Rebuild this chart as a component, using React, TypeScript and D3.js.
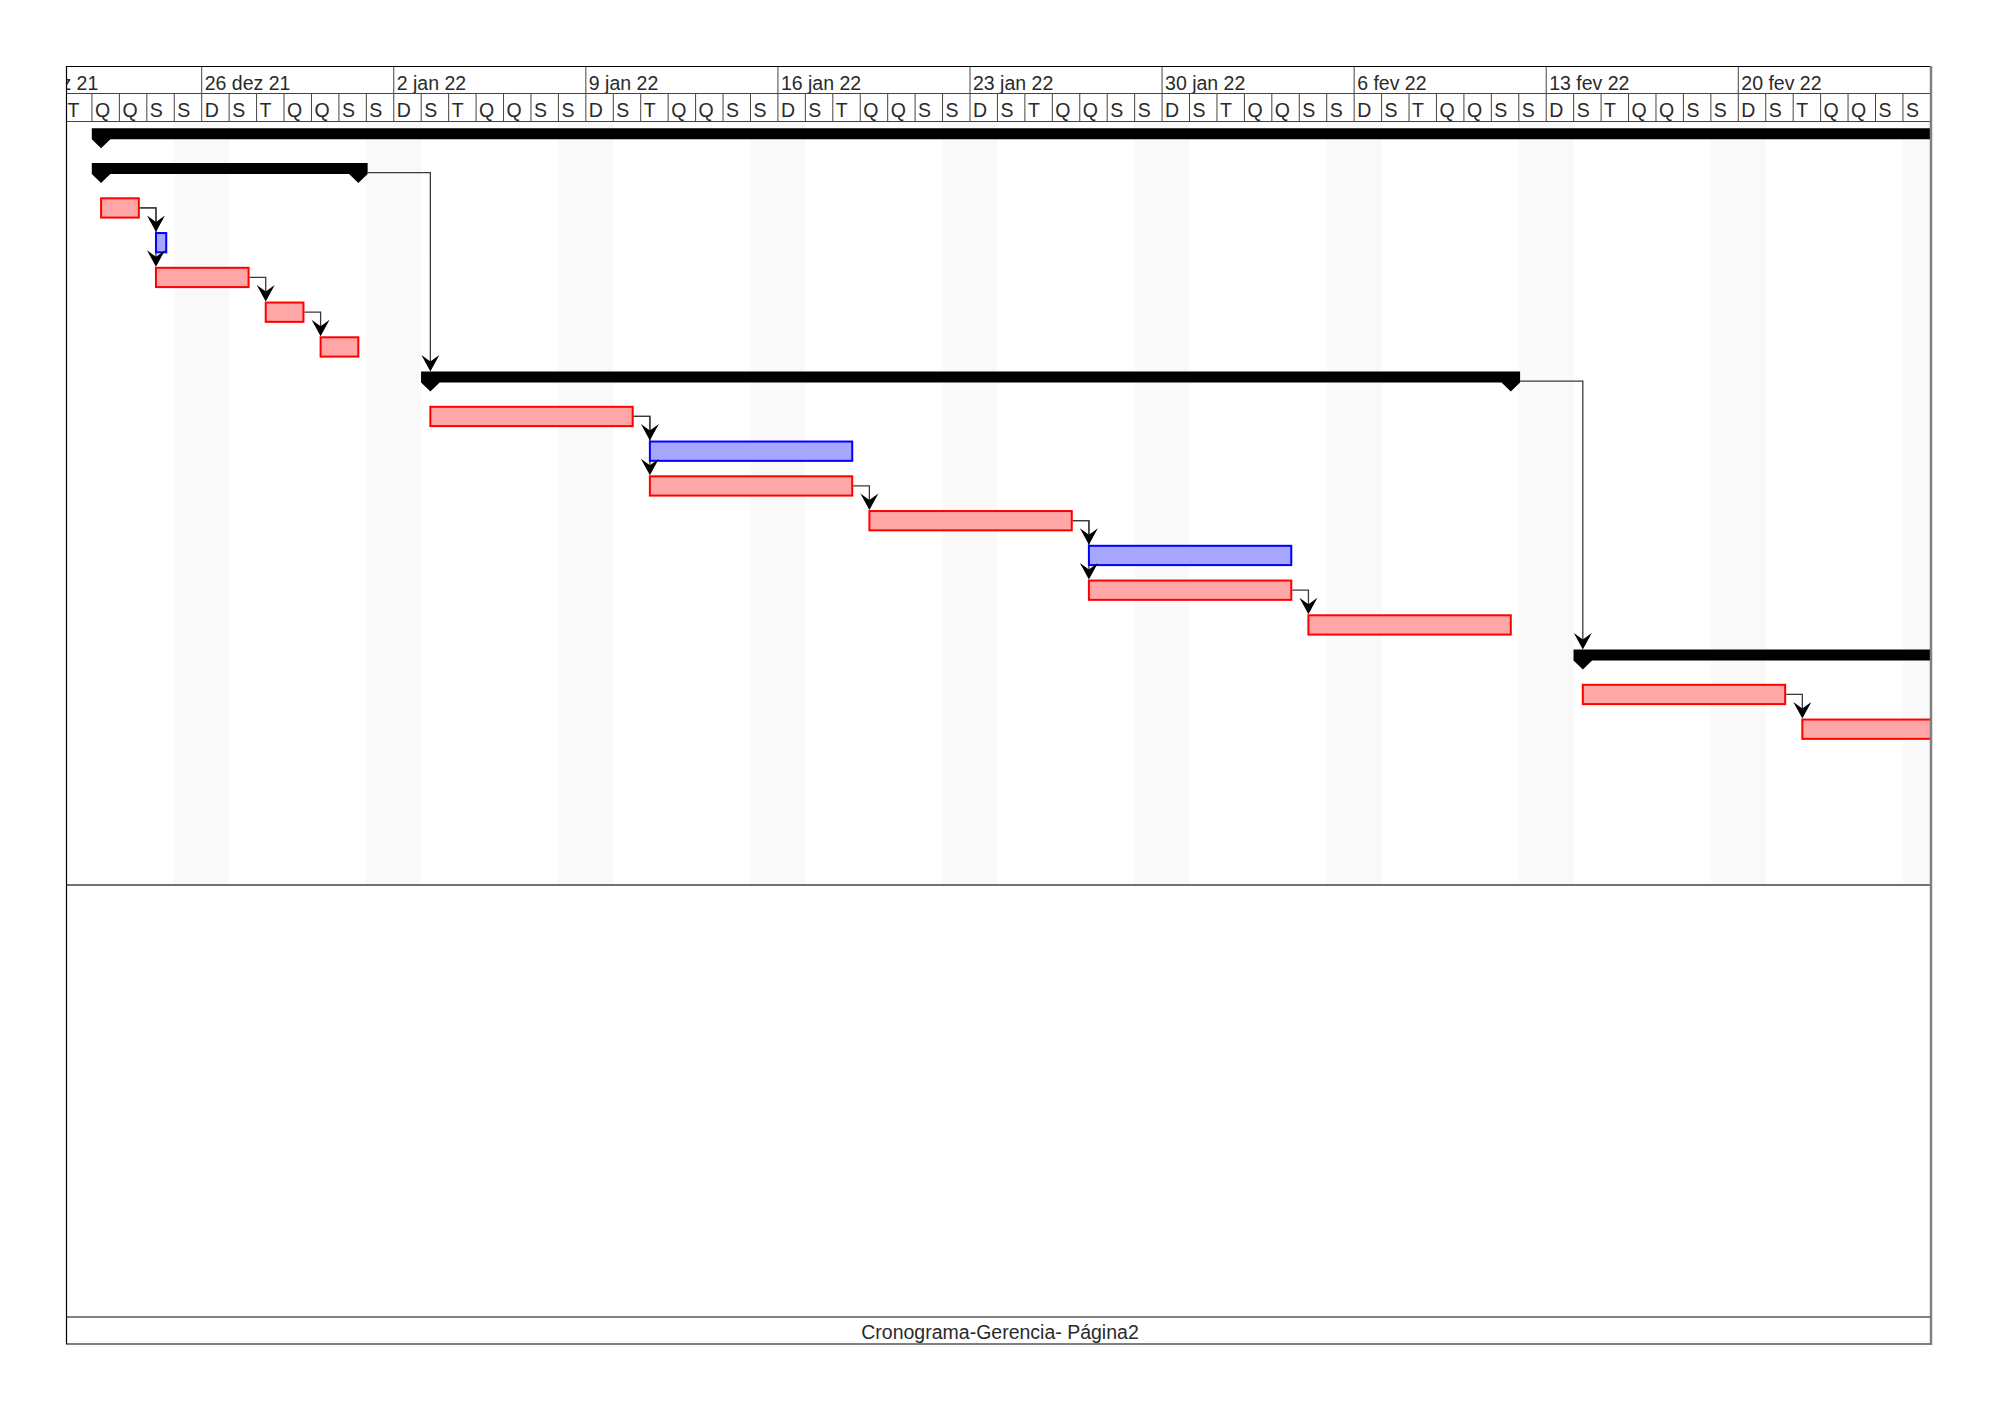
import * as d3 from 'd3';

// week header labels (one per Sunday) and day letters (Sun..Sat)
const WEEK_LABELS = ['19 dez 21', '26 dez 21', '2 jan 22', '9 jan 22', '16 jan 22', '23 jan 22', '30 jan 22', '6 fev 22', '13 fev 22', '20 fev 22'];
const DAY_LETTERS = ['D', 'S', 'T', 'Q', 'Q', 'S', 'S'];

// one entry per row of the gantt
const TASK_KIND = ['sum', 'sum', 'red', 'blue', 'red', 'red', 'red', 'sum', 'red', 'blue', 'red', 'red', 'blue', 'red', 'red', 'sum', 'red', 'red'];
const TASK_START = [
  '2021-12-22T08', '2021-12-22T08', '2021-12-22T08', '2021-12-24T08', '2021-12-24T08', '2021-12-28T08',
  '2021-12-30T08', '2022-01-03T08', '2022-01-03T08', '2022-01-11T08', '2022-01-11T08', '2022-01-19T08',
  '2022-01-27T08', '2022-01-27T08', '2022-02-04T08', '2022-02-14T08', '2022-02-14T08', '2022-02-22T08'
];
const TASK_END = [
  '2022-03-01T17', '2021-12-31T17', '2021-12-23T17', '2021-12-24T17', '2021-12-27T17', '2021-12-29T17',
  '2021-12-31T17', '2022-02-11T17', '2022-01-10T17', '2022-01-18T17', '2022-01-18T17', '2022-01-26T17',
  '2022-02-03T17', '2022-02-03T17', '2022-02-11T17', '2022-03-01T17', '2022-02-21T17', '2022-03-01T17'
];

// finish-to-start dependencies (row indexes)
const LINK_FROM = [2, 2, 4, 5, 1, 8, 8, 10, 11, 11, 13, 7, 16];
const LINK_TO = [3, 4, 5, 6, 7, 9, 10, 11, 12, 13, 14, 15, 17];

const FOOTER = 'Cronograma-Gerencia- Página2';

const FONT = '"Liberation Sans", Arial, sans-serif';
const COLORS = {
  red: { fill: '#ffa6a6', stroke: '#ff0000' },
  blue: { fill: '#a6a6ff', stroke: '#0000ff' }
};

function parse(s) {
  var parts = s.split('T');
  var d = parts[0].split('-').map(Number);
  return new Date(Date.UTC(d[0], d[1] - 1, d[2], +parts[1]));
}

function utc(y, m, d) {
  return new Date(Date.UTC(y, m, d));
}

export default function App() {
  var W = 2000, H = 1413;
  var L = 66, R = 1931, T = 66;
  var monthBottom = 93.5, headerBottom = 121.5, bodyBottom = 885, footerTop = 1317, B = 1344;

  var x = d3.scaleUtc().domain([utc(2021, 11, 26), utc(2022, 1, 20)]).range([201.7, 1738.3]);
  var y = d3.scaleLinear().domain([0, 1]).range([127.8, 162.55]);

  var days = d3.utcDay.range(utc(2021, 11, 21), utc(2022, 1, 27));
  var weeks = d3.utcSunday.range(utc(2021, 11, 19), utc(2022, 1, 21));

  var rows = TASK_KIND.map(function (k, i) {
    return { kind: k, i: i, xs: x(parse(TASK_START[i])), xe: x(parse(TASK_END[i])), top: y(i) };
  });

  var ext = 9.3;

  var links = LINK_FROM.map(function (s, k) {
    var src = rows[s], tgt = rows[LINK_TO[k]];
    var sx = src.kind === 'sum' ? src.xe + ext : src.xe + 1;
    var sy = src.kind === 'sum' ? src.top + 10 : src.top + 10.6;
    var tx = tgt.xs;
    var ty = tgt.kind === 'sum' ? tgt.top + 0.5 : tgt.top;
    return { sx: sx, sy: sy, tx: tx, ty: ty };
  });

  function summaryPath(r) {
    var t = r.top + 0.5;
    var a = r.xs, b = r.xe;
    return 'M' + (a - ext) + ',' + t + 'H' + (b + ext) + 'V' + (t + 11) +
      'L' + b + ',' + (t + 20) + 'L' + (b - ext) + ',' + (t + 11) +
      'H' + (a + ext) + 'L' + a + ',' + (t + 20) + 'L' + (a - ext) + ',' + (t + 11) + 'Z';
  }

  function arrowPath(l) {
    return 'M' + l.tx + ',' + l.ty + 'L' + (l.tx - 9) + ',' + (l.ty - 16.5) + 'L' + l.tx + ',' + (l.ty - 10) +
      'L' + (l.tx + 9) + ',' + (l.ty - 16.5) + 'Z';
  }

  return (
    <svg width={W} height={H} style={{ position: 'absolute', left: 0, top: 0, background: '#fff' }} fontFamily={FONT}>
      <defs>
        <clipPath id="body-clip">
          <rect x={L} y={headerBottom} width={R - L - 1} height={bodyBottom - headerBottom} />
        </clipPath>
        <clipPath id="head-clip">
          <rect x={L} y={T} width={R - L - 1} height={headerBottom - T} />
        </clipPath>
      </defs>
      <rect x={0} y={0} width={W} height={H} fill="#fff" />

      {/* weekend shading */}
      <g clipPath="url(#body-clip)">
        {days.filter(function (d) { return d.getUTCDay() === 0 || d.getUTCDay() === 6; }).map(function (d, i) {
          return (
            <rect key={'we' + i} x={x(d)} y={headerBottom} width={x(d3.utcDay.offset(d, 1)) - x(d)}
              height={bodyBottom - headerBottom} fill="#f9f9f9" />
          );
        })}

        {/* connector lines */}
        {links.map(function (l, i) {
          return (
            <path key={'ln' + i} d={'M' + l.sx + ',' + l.sy + 'H' + l.tx + 'V' + (l.ty - 9)}
              fill="none" stroke="#3a3a3a" strokeWidth={1.3} />
          );
        })}

        {/* bars */}
        {rows.map(function (r) {
          if (r.kind === 'sum') {
            return <path key={'b' + r.i} d={summaryPath(r)} fill="#000" />;
          }
          var c = COLORS[r.kind];
          return (
            <rect key={'b' + r.i} x={r.xs} y={r.top + 1} width={r.xe - r.xs} height={19.3}
              fill={c.fill} stroke={c.stroke} strokeWidth={2} />
          );
        })}

        {/* arrow heads */}
        {links.map(function (l, i) {
          return <path key={'ah' + i} d={arrowPath(l)} fill="#000" />;
        })}
      </g>

      {/* timescale header */}
      <g clipPath="url(#head-clip)">
        {weeks.map(function (d, i) {
          return (
            <g key={'wk' + i}>
              <line x1={x(d)} x2={x(d)} y1={T} y2={monthBottom} stroke="#444" strokeWidth={1} />
              <text x={x(d) + 3} y={90} fontSize={19.5} fill="#2a2a2a">{WEEK_LABELS[i]}</text>
            </g>
          );
        })}
        {days.map(function (d, i) {
          return (
            <g key={'dy' + i}>
              <line x1={x(d)} x2={x(d)} y1={monthBottom} y2={headerBottom} stroke="#444" strokeWidth={1} />
              <text x={x(d) + 3} y={116.5} fontSize={19.5} fill="#2a2a2a">{DAY_LETTERS[d.getUTCDay()]}</text>
            </g>
          );
        })}
      </g>
      <line x1={L} x2={R} y1={monthBottom} y2={monthBottom} stroke="#444" strokeWidth={1} />
      <line x1={L} x2={R} y1={headerBottom} y2={headerBottom} stroke="#444" strokeWidth={1} />

      {/* frame */}
      <line x1={L} x2={R} y1={T + 0.5} y2={T + 0.5} stroke="#000" strokeWidth={1.2} />
      <line x1={L} x2={R} y1={bodyBottom} y2={bodyBottom} stroke="#707070" strokeWidth={2} />
      <line x1={L} x2={R} y1={footerTop} y2={footerTop} stroke="#000" strokeWidth={1.2} />
      <line x1={L} x2={R + 1} y1={B} y2={B} stroke="#808080" strokeWidth={2} />
      <line x1={L + 0.5} x2={L + 0.5} y1={T} y2={B} stroke="#000" strokeWidth={1.2} />
      <line x1={R} x2={R} y1={T} y2={B + 1} stroke="#808080" strokeWidth={2.5} />

      <text x={1000} y={1338.5} fontSize={19.5} textAnchor="middle" fill="#2a2a2a">{FOOTER}</text>
    </svg>
  );
}
